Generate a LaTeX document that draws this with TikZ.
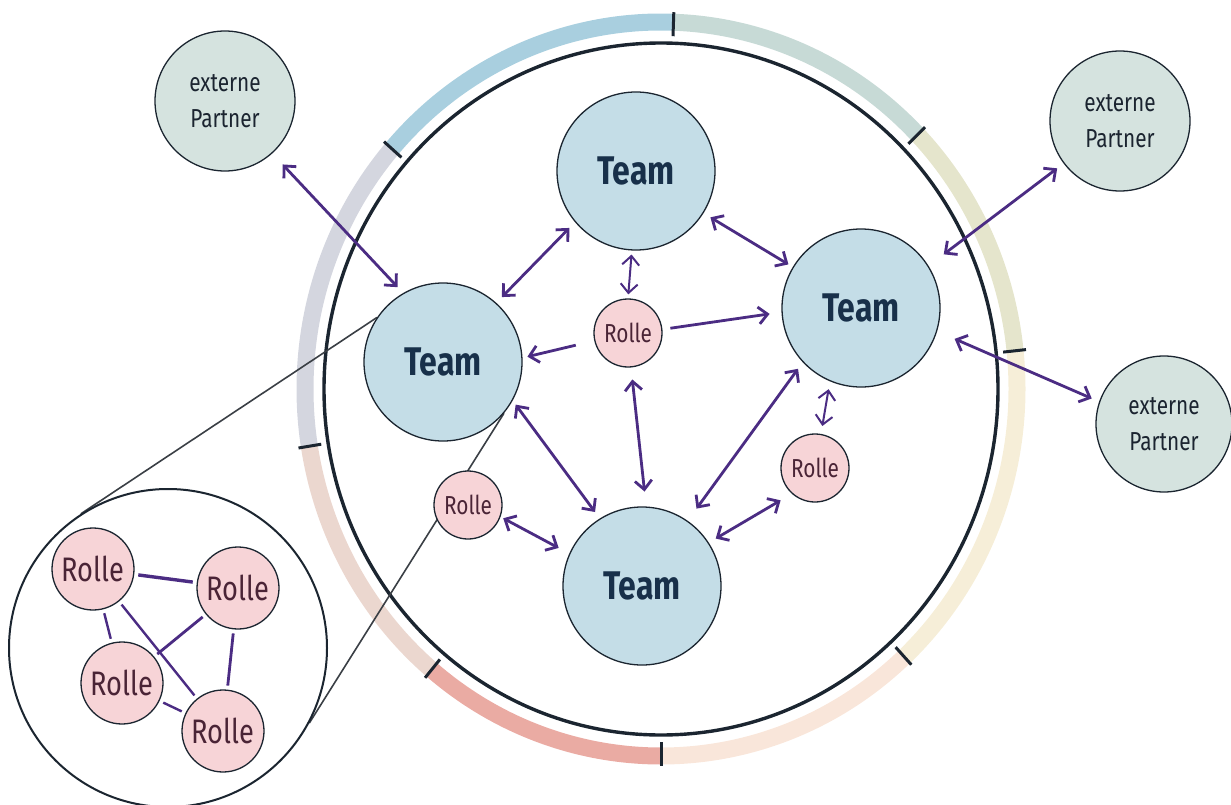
\documentclass[tikz,border=0pt]{standalone}
\usepackage{fontspec}
\newfontfamily\handfont{Fira Sans}[FakeStretch=0.8]
\usepackage{tikz}
\usetikzlibrary{arrows.meta,backgrounds}

\definecolor{inkdark}{HTML}{1B2530}
\definecolor{linkpurple}{HTML}{4B2C83}
\definecolor{lensgrey}{HTML}{3A3F45}
\definecolor{teamblue}{HTML}{C4DDE7}
\definecolor{teamink}{HTML}{18304A}
\definecolor{rolepink}{HTML}{F7D4D7}
\definecolor{roleink}{HTML}{4A2436}
\definecolor{partnergreen}{HTML}{D5E3DF}
\definecolor{partnerink}{HTML}{1B2430}
\definecolor{bandblue}{HTML}{A9CFDF}
\definecolor{bandsage}{HTML}{C7DAD6}
\definecolor{bandolive}{HTML}{E5E5CC}
\definecolor{bandyellow}{HTML}{F6EED8}
\definecolor{bandpeach}{HTML}{F9E6DA}
\definecolor{bandsalmon}{HTML}{EAABA3}
\definecolor{bandrose}{HTML}{EBD7CF}
\definecolor{bandlilac}{HTML}{D4D6DF}

\def\teamsize{158pt}
\def\rolesize{68pt}
\newcommand\teamfont{\handfont\bfseries\fontsize{40}{44}\selectfont}
\newcommand\rolefont{\handfont\fontsize{26}{30}\selectfont}
\newcommand\bigrolefont{\handfont\fontsize{34}{38}\selectfont}
\newcommand\partnerfont{\handfont\fontsize{26}{36}\selectfont}

\tikzstyle{blob}=[circle, draw=inkdark, line width=1.3pt, inner sep=0pt, align=center]
\tikzstyle{team}=[style=blob, fill=teamblue, text=teamink, minimum size=\teamsize, font=\teamfont]
\tikzstyle{role}=[style=blob, fill=rolepink, text=roleink, minimum size=\rolesize, font=\rolefont]
\tikzstyle{bigrole}=[style=role, minimum size=82pt, font=\bigrolefont]
\tikzstyle{partner}=[style=blob, fill=partnergreen, text=partnerink, minimum size=140pt, font=\partnerfont]
\tikzstyle{lensbox}=[circle, draw=inkdark, line width=2pt, fill=white, minimum size=318pt]
\tikzstyle{link}=[>={Straight Barb[length=9pt,width=17pt]}, <->, draw=linkpurple, line width=2.8pt,
    shorten <=8pt, shorten >=8pt]
\tikzstyle{onelink}=[style=link, ->]
\tikzstyle{tie}=[draw=linkpurple, line width=2.4pt, shorten <=4pt, shorten >=4pt]
\tikzstyle{lens}=[draw=lensgrey, line width=1.6pt]
\tikzstyle{band}=[line width=17pt, line cap=butt]
\tikzstyle{tick}=[draw=inkdark, line width=3pt]

\begin{document}
\begin{tikzpicture}[x=1pt, y=-1pt]
    \useasboundingbox (0,0) rectangle (1231,805);
    \coordinate (ring) at (661,389);

    \node[team] (tT) at (636,171) {Team};
    \node[team] (tR) at (861,308) {Team};
    \node[team] (tL) at (443,362) {Team};
    \node[team] (tB) at (642,586) {Team};
    \node[role] (rC) at (628,333) {Rolle};
    \node[role] (rL) at (468,505) {Rolle};
    \node[role] (rR) at (815,468) {Rolle};
    \node[partner] (pTL) at (225,101) {externe\\Partner};
    \node[partner] (pTR) at (1120,121) {externe\\Partner};
    \node[partner, minimum size=136pt] (pBR) at (1164,424) {externe\\Partner};

    % zoomed view of one team
    \node[lensbox] (zoom) at (168,648) {};
    \node[bigrole] (i1) at (93,569) {Rolle};
    \node[bigrole] (i2) at (238,588) {Rolle};
    \node[bigrole] (i3) at (122,683) {Rolle};
    \node[bigrole] (i4) at (223,731) {Rolle};
    \draw[tie, line width=3.4pt] (i1) -- (i2);
    \draw[tie] (i1) -- (i3);
    \draw[tie] (i1) -- (i4);
    \draw[tie, line width=2.8pt] (i2) -- (i3);
    \draw[tie, line width=2.8pt] (i2) -- (i4);
    \draw[tie] (i3) -- (i4);

    \begin{scope}[on background layer]
        \foreach \a/\b/\c in {139/88/bandblue, 88/44/bandsage, 44/6/bandolive, 6/-47/bandyellow,
                -47/-90/bandpeach, -90/-130/bandsalmon, -130/-171/bandrose, -171/-221/bandlilac}
            \draw[band, draw=\c] ([shift={(-\a:356 and 367)}]ring)
                arc[start angle=-\a, end angle=-\b, x radius=356, y radius=367];
        \draw[draw=inkdark, line width=3.4pt] (ring) ellipse[x radius=337, y radius=346];
        \foreach \a in {139,88,44,6,-47,-90,-130,-171}
            \draw[tick] ([shift={(-\a:344 and 353)}]ring) -- ([shift={(-\a:367 and 377)}]ring);
        \draw[lens] (tL.146) -- (zoom.123);
        \draw[lens] (tL.-40) -- (zoom.-28);
    \end{scope}

    \draw[link, shorten <=15pt] (pTL.-48) -- (tL.120);
    \draw[link, shorten >=19pt] (pTR.217) -- (tR.32);
    \draw[link, shorten <=19pt] (tR.-17) -- (pBR.161);
    \draw[link] (tT.-140) -- (tL.48);
    \draw[link, shorten >=5pt] (tT.-32) -- (tR.149);
    \draw[link, line width=2pt, shorten <=4pt, shorten >=4pt] (tT.-93) -- (rC.90);
    \draw[onelink, shorten <=19pt, shorten >=5pt] (rC.193) -- (tL.3);
    \draw[onelink, shorten >=12pt] (rC.6) -- (tR.183);
    \draw[link, shorten <=12pt, shorten >=15pt] (rC.-85) -- (tB.87);
    \draw[link, shorten <=5pt] (tL.-29) -- (tB.122);
    \draw[link, shorten >=15pt] (tR.223) -- (tB.55);
    \draw[link, line width=2pt] (tR.-113) -- (rR.80);
    \draw[link, shorten <=13pt] (rR.-132) -- (tB.33);
    \draw[link, shorten <=3pt, shorten >=12pt] (rL.-20) -- (tB.156);
\end{tikzpicture}
\end{document}
